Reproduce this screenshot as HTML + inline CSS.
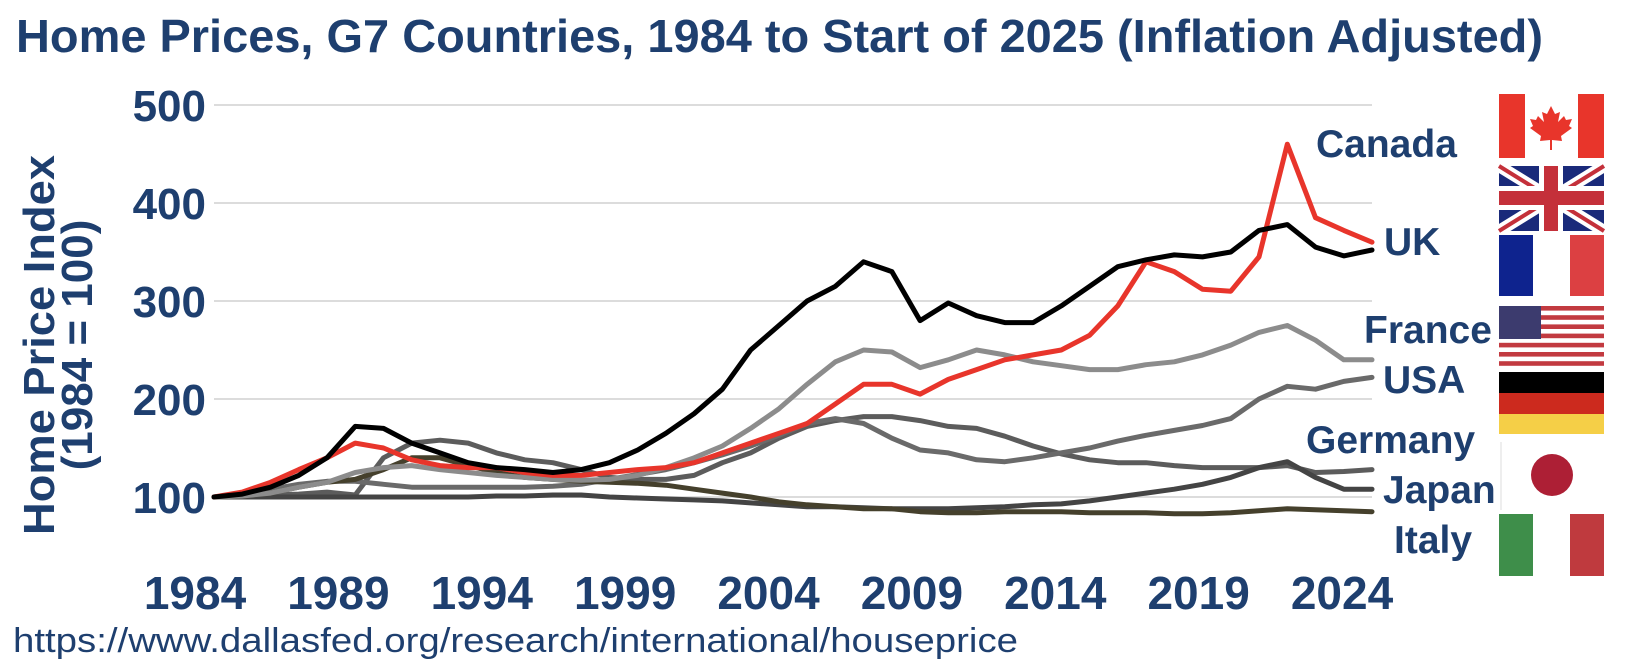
<!DOCTYPE html>
<html><head><meta charset="utf-8"><style>
body{margin:0;background:#fff;}
svg{display:block;font-family:"Liberation Sans",sans-serif;}
</style></head><body>
<svg id="chart" width="1632" height="668" viewBox="0 0 1632 668" xmlns="http://www.w3.org/2000/svg">
<text x="16" y="52" font-size="46" font-weight="bold" fill="#1e3f6f" textLength="1527" lengthAdjust="spacingAndGlyphs">Home Prices, G7 Countries, 1984 to Start of 2025 (Inflation Adjusted)</text>
<g id="grid"></g>
<g id="yticks"></g>
<g id="xticks"></g>
<text transform="translate(60,345) rotate(-90)" text-anchor="middle" font-size="44" font-weight="bold" fill="#1e3f6f"><tspan x="0" y="-6" textLength="380" lengthAdjust="spacingAndGlyphs">Home Price Index</tspan><tspan x="0" y="32">(1984 = 100)</tspan></text>
<g id="lines"></g>
<g font-size="39" font-weight="bold" fill="#1e3f6f">
<text x="1316" y="157">Canada</text>
<text x="1384" y="255">UK</text>
<text x="1364" y="343">France</text>
<text x="1383" y="393">USA</text>
<text x="1306" y="453">Germany</text>
<text x="1383" y="503">Japan</text>
<text x="1394" y="553">Italy</text>
</g>
<g transform="translate(-7,0)">
<g>
<rect x="1506" y="94" width="105" height="64" fill="#fff"/><rect x="1506" y="94" width="26" height="64" fill="#e8352b"/><rect x="1585" y="94" width="26" height="64" fill="#e8352b"/>
<path d="M1558 106 l4 8 5-2 -2 10 6-6 2 4 6-1 -3 7 3 2 -11 8 1 5 -10-1 0 10 -2 0 0-10 -10 1 1-5 -11-8 3-2 -3-7 6 1 2-4 6 6 -2-10 5 2z" fill="#e8352b"/>
</g>
<g>
<rect x="1506" y="166" width="105" height="65" fill="#1a2a7a"/>
<path d="M1506 166 L1611 231 M1611 166 L1506 231" stroke="#fff" stroke-width="12"/>
<path d="M1506 166 L1611 231 M1611 166 L1506 231" stroke="#c4303a" stroke-width="4"/>
<rect x="1546" y="166" width="24" height="65" fill="#fff"/><rect x="1506" y="186" width="105" height="24" fill="#fff"/>
<rect x="1551" y="166" width="14" height="65" fill="#c4303a"/><rect x="1506" y="191" width="105" height="14" fill="#c4303a"/>
</g>
<g>
<rect x="1506" y="235" width="34" height="61" fill="#0e238e"/><rect x="1540" y="235" width="37" height="61" fill="#fff"/><rect x="1577" y="235" width="34" height="61" fill="#dc4042"/>
</g>
<g>
<rect x="1506" y="306" width="105" height="60" fill="#fff"/>
<g fill="#c23a40"><rect x="1506" y="306" width="105" height="4.6"/><rect x="1506" y="315.2" width="105" height="4.6"/><rect x="1506" y="324.4" width="105" height="4.6"/><rect x="1506" y="333.6" width="105" height="4.6"/><rect x="1506" y="342.8" width="105" height="4.6"/><rect x="1506" y="352" width="105" height="4.6"/><rect x="1506" y="361.2" width="105" height="4.6"/></g>
<rect x="1506" y="306" width="42" height="33" fill="#3c3b6e"/>
</g>
<g>
<rect x="1506" y="372" width="105" height="21" fill="#000"/><rect x="1506" y="393" width="105" height="21" fill="#cc2a1e"/><rect x="1506" y="414" width="105" height="20" fill="#f5cf47"/>
</g>
<g>
<rect x="1507" y="442" width="104" height="68" fill="#fff"/><line x1="1508" y1="442" x2="1508" y2="510" stroke="#ddd" stroke-width="1"/>
<circle cx="1559" cy="475" r="21" fill="#ad1f35"/>
</g>
<g>
<rect x="1506" y="514" width="34" height="62" fill="#3e8e4a"/><rect x="1540" y="514" width="37" height="62" fill="#fff"/><rect x="1577" y="514" width="34" height="62" fill="#bf3a3e"/>
</g>
</g>
<text x="13" y="652" font-size="34" fill="#1e3f6f" textLength="1005" lengthAdjust="spacingAndGlyphs">https://www.dallasfed.org/research/international/houseprice</text>
</svg>
<script>
const years = [1984,1985,1986,1987,1988,1989,1990,1991,1992,1993,1994,1995,1996,1997,1998,1999,2000,2001,2002,2003,2004,2005,2006,2007,2008,2009,2010,2011,2012,2013,2014,2015,2016,2017,2018,2019,2020,2021,2022,2023,2024,2025];
const yTicks = [100,200,300,400,500];
const xTickLabels = [1984,1989,1994,1999,2004,2009,2014,2019,2024];
const seriesA = [100,100,102,103,105,102,140,155,158,155,145,138,135,128,120,118,118,122,135,145,160,172,178,182,182,178,172,170,162,152,144,138,135,135,132,130,130,130,132,125,126,128];
const germany = [100,100,100,100,100,100,100,100,100,100,101,101,102,102,100,99,98,97,96,94,92,90,90,89,88,88,88,89,90,92,93,96,100,104,108,113,120,130,136,120,108,108];
const usa = [100,102,108,113,116,116,113,110,110,110,110,110,111,113,118,123,128,135,143,152,163,175,180,175,160,148,145,138,136,140,145,150,157,163,168,173,180,200,213,210,218,222];
const italy = [100,101,104,110,115,118,128,140,140,132,125,120,118,116,115,114,112,108,104,100,95,92,90,88,88,85,84,84,85,85,85,84,84,84,83,83,84,86,88,87,86,85];
const france = [100,101,104,110,115,125,130,132,128,125,122,120,118,117,118,122,130,140,152,170,190,215,238,250,248,232,240,250,245,238,234,230,230,235,238,245,255,268,275,260,240,240];
const canada = [100,105,115,128,140,155,150,138,132,130,130,125,122,122,125,128,130,135,145,155,165,175,195,215,215,205,220,230,240,245,250,265,295,340,330,312,310,345,460,385,372,360];
const uk = [100,103,110,122,140,172,170,155,145,135,130,128,125,128,135,148,165,185,210,250,275,300,315,340,330,280,298,285,278,278,295,315,335,342,347,345,350,372,378,355,346,352];

const NS='http://www.w3.org/2000/svg';
const x0=214,x1=1372,yBase=497,perUnit=0.98;
function xs(yr){return x0+(yr-1984)/(2025-1984)*(x1-x0);}
function ys(v){return yBase-(v-100)*perUnit;}
function xl(yr){return 195+(yr-1984)/40*(1342-195);}
function mk(tag,attrs,parent){const e=document.createElementNS(NS,tag);for(const k in attrs)e.setAttribute(k,attrs[k]);parent.appendChild(e);return e;}
const grid=document.getElementById('grid'),yt=document.getElementById('yticks'),xt=document.getElementById('xticks'),lines=document.getElementById('lines');
yTicks.forEach(v=>{
  const l=mk('line',{x1:x0,x2:x1,y1:ys(v),y2:ys(v),stroke:'#dcdcdc','stroke-width':2},grid);
  
  
  const t=mk('text',{x:206,y:ys(v)+16,'text-anchor':'end','font-size':44,'font-weight':'bold',fill:'#1e3f6f'},yt);
  t.textContent=v;
  
  
});
xTickLabels.forEach(yr=>{
  const t=mk('text',{x:xl(yr),y:609,'text-anchor':'middle','font-size':46,'font-weight':'bold',fill:'#1e3f6f'},xt);
  t.textContent=yr;
  
  
});
const series=[['series-a',seriesA,'#5c5c5c'],['germany',germany,'#444444'],['usa',usa,'#6a6a6a'],['italy',italy,'#45402c'],['france',france,'#8c8c8c'],['canada',canada,'#e8352b'],['uk',uk,'#000000']];
series.forEach(([name,vals,col])=>{
  const d=vals.map((v,i)=>(i?'L':'M')+xs(years[i]).toFixed(1)+' '+ys(v).toFixed(1)).join(' ');
  const p=mk('path',{d:d,fill:'none',stroke:col,'stroke-width':5,'stroke-linejoin':'round','stroke-linecap':'round'},lines);
  
  
});
</script>
</body></html>
